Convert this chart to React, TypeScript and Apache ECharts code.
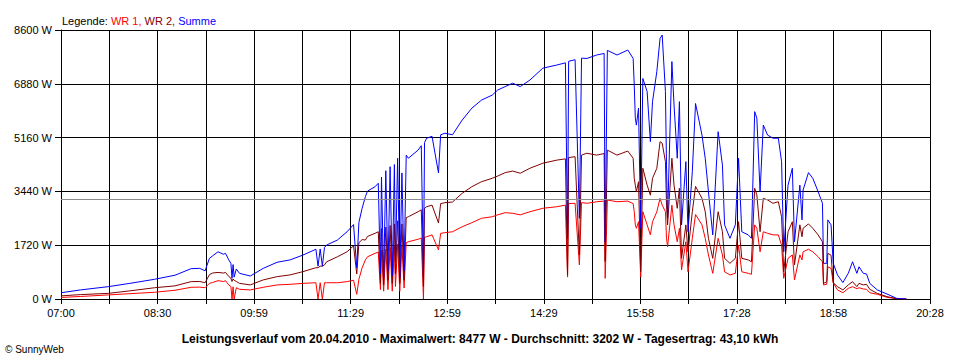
import React, { useEffect, useRef } from "react";
import * as echarts from "echarts";

const times = [
  "07:00","07:18","07:44","08:04","08:27","08:46","09:01","09:09","09:14","09:18",
  "09:21","09:26","09:31","09:33","09:36","09:38","09:39","09:40","09:41","09:43",
  "09:46","09:56","10:08","10:21","10:33","10:45","10:57","10:59","11:01","11:03",
  "11:05","11:07","11:17","11:26","11:32","11:35","11:37","11:40","11:43","11:45",
  "11:52","11:55","11:57","11:58","12:00","12:02","12:04","12:06","12:08","12:10",
  "12:11","12:13","12:15","12:17","12:19","12:21","12:23","12:32","12:35","12:37",
  "12:38","12:40","12:45","12:51","12:53","12:57","13:04","13:13","13:22","13:31",
  "13:41","13:46","13:53","14:00","14:07","14:16","14:28","14:41","14:49","14:51",
  "14:52","14:58","15:02","15:04","15:09","15:18","15:25","15:26","15:28","15:37",
  "15:47","15:52","15:53","15:54","15:55","15:57","15:59","16:01","16:05","16:08",
  "16:10","16:14","16:17","16:19","16:22","16:23","16:24","16:28","16:30","16:33",
  "16:35","16:37","16:41","16:43","16:47","16:50","16:56","16:59","17:02","17:06",
  "17:11","17:15","17:17","17:22","17:27","17:30","17:33","17:39","17:42","17:45",
  "17:47","17:50","17:53","17:57","18:02","18:07","18:10","18:12","18:16","18:20",
  "18:22","18:27","18:29","18:30","18:35","18:39","18:44","18:48","18:49","18:52",
  "18:53","18:56","18:58","19:02","19:07","19:12","19:16","19:20","19:22","19:26",
  "19:29","19:32","19:39","19:48","19:57","20:06"
];

const summe = [
  200,290,395,500,630,760,970,980,900,1300,
  1380,1510,1430,1460,1250,1140,660,1100,700,960,
  820,735,980,1175,1250,1405,1590,1050,1600,1050,
  1650,1725,1885,2150,2380,1000,2450,2900,3270,3450,
  3590,3700,800,3900,700,4100,900,4230,750,4300,
  1200,4500,700,4030,900,4600,4500,4760,4900,700,
  5000,5140,5200,4030,5250,5300,5250,5720,6100,6360,
  6520,6680,6790,6900,6790,7000,7380,7480,7550,1940,
  7600,7650,2580,7700,7690,7800,7850,1830,7950,7800,
  7960,7690,6840,5780,5560,6100,2260,7050,6630,5030,
  6310,7270,8330,8440,6630,4280,2580,7590,6200,4500,
  6310,2370,4390,2150,4070,6250,5240,4500,3430,2050,
  5350,4280,2370,1940,2370,4500,2150,2050,1940,5990,
  5780,3430,5560,5240,5140,5140,4390,1510,3640,4180,
  1830,3640,2530,3485,4040,3860,3430,3060,1140,1140,
  2530,2370,1140,770,525,820,1190,820,1030,820,
  800,500,290,160,20,0
];

const wr2 = [
  100,140,180,260,360,420,555,560,520,780,
  830,850,830,850,720,660,560,640,600,560,
  500,450,610,715,770,875,1000,1000,1050,1050,
  1090,1190,1350,1510,1700,800,1800,1900,1885,2000,
  2100,2150,500,2250,450,2300,600,2350,500,2400,
  800,2500,500,2400,600,2600,2630,2790,2850,400,
  2900,2950,3000,2430,3050,3080,3100,3380,3590,3750,
  3860,3930,4040,4090,4020,4180,4340,4440,4480,770,
  4520,4550,1410,4600,4660,4600,4650,1200,4760,4600,
  4730,4500,3860,3640,3430,3750,870,4180,3640,3320,
  3860,4180,5030,4980,4390,3000,2370,4500,3640,2900,
  3540,1300,2370,1510,2790,3600,3220,2790,1940,1300,
  2790,2150,1300,1140,1300,2470,1300,1250,1190,3540,
  3330,2150,3220,3165,3060,3110,2630,870,2150,2470,
  1090,2370,1990,2260,2400,2260,2050,1830,500,550,
  1460,1400,520,395,290,450,555,395,500,450,
  470,310,180,75,10,0
];

const wr1 = [
  50,80,130,170,215,280,375,380,360,500,
  530,585,560,585,450,395,0,390,0,360,
  310,290,375,450,470,500,520,0,520,0,
  520,520,520,555,600,150,630,1000,1250,1350,
  1460,1500,300,1550,250,1600,300,1650,250,1700,
  400,1750,250,1700,350,1800,1830,1910,1950,0,
  1970,1990,2050,1570,2100,2120,2150,2310,2440,2580,
  2630,2690,2760,2740,2690,2790,2900,2950,3000,700,
  3050,3060,1090,3080,3060,3110,3130,660,3165,3110,
  3130,3050,2790,2370,2260,2470,700,2790,2370,2050,
  2470,2790,3220,3000,2790,1940,1670,3000,2370,1830,
  2260,930,1830,870,1940,2700,2370,1940,1410,820,
  1940,1410,870,770,820,1720,870,820,790,2370,
  2260,1510,2150,2100,2050,2050,1720,660,1300,1410,
  610,1410,1250,1510,1590,1510,1350,1190,450,470,
  1030,980,520,290,200,340,395,330,360,320,
  310,200,150,55,8,0
];

const xTickLabels = ["07:00","08:30","09:59","11:29","12:59","14:29","15:58","17:28","18:58","20:28"];
const averageW = 3202;
const legendText = ["Legende: ", "WR 1, ", "WR 2, ", "Summe"];
const footerText = "Leistungsverlauf vom 20.04.2010 - Maximalwert: 8477 W - Durchschnitt: 3202 W - Tagesertrag: 43,10 kWh";
const copyrightText = "© SunnyWeb";

const START_MIN = 7 * 60;
const SPAN_MIN = 808; // 07:00 .. 20:28
const X_STEP = SPAN_MIN / 18;
const FONT = "'Liberation Sans', Arial, sans-serif";

const toMin = (t: string) => {
  const [h, m] = t.split(":").map(Number);
  return h * 60 + m - START_MIN;
};

export default function App() {
  const ref = useRef<HTMLDivElement>(null);
  useEffect(() => {
    if (!ref.current) return;
    const chart = echarts.init(ref.current, undefined, { renderer: "svg" });
    const mk = (arr: number[]) => times.map((t, i) => [toMin(t), arr[i]]);
    chart.setOption({
      animation: false,
      backgroundColor: "#fff",
      textStyle: { fontFamily: FONT },
      title: {
        left: 57,
        top: 10,
        text: `{k|${legendText[0]}}{r|${legendText[1]}}{d|${legendText[2]}}{b|${legendText[3]}}`,
        textStyle: {
          fontSize: 11,
          fontWeight: "normal",
          rich: {
            k: { color: "#000", fontSize: 11, fontFamily: FONT },
            r: { color: "#ff0000", fontSize: 11, fontFamily: FONT },
            d: { color: "#800000", fontSize: 11, fontFamily: FONT },
            b: { color: "#0000ff", fontSize: 11, fontFamily: FONT },
          },
        },
      },
      graphic: [
        {
          type: "text",
          x: 480,
          y: 339,
          style: {
            text: footerText,
            fill: "#000",
            font: `bold 12px ${FONT}`,
            align: "center",
            verticalAlign: "middle",
          },
        },
        {
          type: "text",
          x: 5,
          y: 349,
          style: {
            text: copyrightText,
            fill: "#000",
            font: `10px ${FONT}`,
            align: "left",
            verticalAlign: "middle",
          },
        },
      ],
      grid: { left: 61, top: 30, right: 30, bottom: 61, containLabel: false },
      xAxis: {
        type: "value",
        min: 0,
        max: SPAN_MIN,
        interval: X_STEP,
        axisLine: { lineStyle: { color: "#000", width: 1 } },
        axisTick: { show: true, length: 5, lineStyle: { color: "#000" } },
        splitLine: { show: true, lineStyle: { color: "#000", width: 1 } },
        axisLabel: {
          color: "#000",
          fontSize: 11,
          fontFamily: FONT,
          margin: 8,
          showMaxLabel: true,
          formatter: (v: number) => {
            const idx = Math.round(v / X_STEP);
            return idx % 2 === 0 ? xTickLabels[idx / 2] ?? "" : "";
          },
        },
      },
      yAxis: {
        type: "value",
        min: 0,
        max: 8600,
        interval: 1720,
        axisLine: { show: true, lineStyle: { color: "#000", width: 1 } },
        axisTick: { show: true, length: 6, lineStyle: { color: "#000" } },
        splitLine: { show: true, lineStyle: { color: "#000", width: 1 } },
        axisLabel: {
          color: "#000",
          fontSize: 11,
          fontFamily: FONT,
          margin: 9,
          formatter: (v: number) => `${v} W`,
        },
      },
      series: [
        {
          name: "WR 1",
          type: "line",
          data: mk(wr1),
          showSymbol: false,
          symbol: "none",
          lineStyle: { color: "#ff0000", width: 1 },
          itemStyle: { color: "#ff0000" },
          markLine: {
            silent: true,
            symbol: "none",
            label: { show: false },
            lineStyle: { color: "#8c8c8c", type: "solid", width: 1 },
            data: [{ yAxis: averageW }],
          },
        },
        {
          name: "WR 2",
          type: "line",
          data: mk(wr2),
          showSymbol: false,
          symbol: "none",
          lineStyle: { color: "#800000", width: 1 },
          itemStyle: { color: "#800000" },
        },
        {
          name: "Summe",
          type: "line",
          data: mk(summe),
          showSymbol: false,
          symbol: "none",
          lineStyle: { color: "#0000ff", width: 1 },
          itemStyle: { color: "#0000ff" },
        },
      ],
    });
    return () => chart.dispose();
  }, []);
  return (
    <div
      ref={ref}
      style={{ position: "fixed", left: 0, top: 0, width: 960, height: 360, background: "#fff" }}
    />
  );
}
